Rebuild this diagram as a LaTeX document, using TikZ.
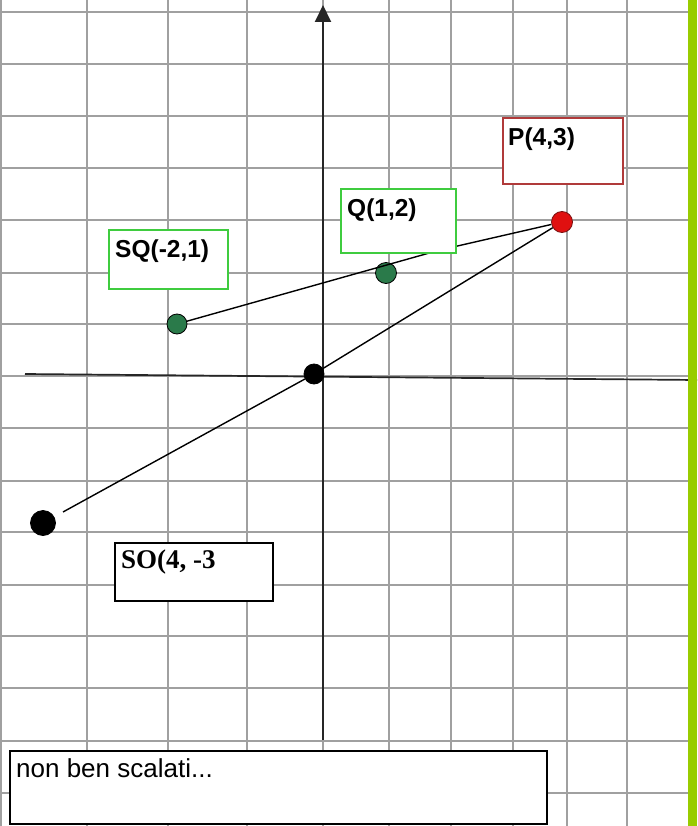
\documentclass[tikz,border=0pt]{standalone}
\usepackage{fontspec}
\setmainfont{Liberation Sans}
\newfontfamily\serifbold{Liberation Serif}
\usetikzlibrary{arrows.meta}
\definecolor{gridc}{HTML}{A0A0A0}
\definecolor{dotgreen}{HTML}{2A7A4A}
\definecolor{dotred}{HTML}{E01010}
\definecolor{darkred}{HTML}{7A1010}
\definecolor{boxgreen}{HTML}{3FCC3F}
\definecolor{boxred}{HTML}{B03A3A}
\definecolor{barc}{HTML}{99CC00}
\begin{document}
\begin{tikzpicture}[x=1pt,y=-1pt,
  gridline/.style={gridc, line width=1.2pt},
  axisline/.style={black!85, line width=2pt},
  dot/.style={circle, draw=black, line width=0.8pt, inner sep=0pt, minimum size=#1},
  labelbox/.style={draw=#1, line width=1.6pt, fill=white, anchor=north west, inner sep=0pt},
  boxtext/.style={anchor=base west, inner sep=0pt, font=\fontsize{24.5}{28}\selectfont\bfseries},
  conn/.style={black, line width=1.4pt}]
\useasboundingbox (0,0) rectangle (697,826);
\fill[white] (0,0) rectangle (697,826);
% grid
\foreach \x in {1,87,168,247,323,389,451,513,567,627}
  \draw[gridline] (\x,0) -- (\x,826);
\foreach \y in {12,64,116,168,220,273,324,376,428,481,532,585,636,688,741,793}
  \draw[gridline] (0,\y) -- (688,\y);
% axes
\coordinate (ybot) at (323,740);
\coordinate (ytop) at (323,5);
\draw[axisline, -{Triangle[length=17pt,width=16pt]}] (ybot) -- (ytop);
\coordinate (xl) at (25,374);
\coordinate (xr) at (697,380);
\draw[axisline, line width=1.7pt] (xl) -- (xr);
% points
\node[dot=20pt, fill=dotgreen] (SQ) at (177,324) {};
\node[dot=21pt, fill=dotgreen] (Q) at (386,273) {};
\node[dot=21pt, fill=dotred, draw=darkred] (P) at (562,222) {};
\node[dot=20pt, fill=black] (O) at (314,374) {};
\node[dot=25pt, fill=black] (SO) at (43,523) {};
% connectors
\coordinate (bend) at (440,250);
\draw[conn] (SQ) -- (bend) -- (P);
\draw[conn, shorten <=10pt] (SO) -- (O);
\draw[conn] (O) -- (P);
% label boxes
\node[labelbox=boxgreen, minimum width=119pt, minimum height=59pt] (SQbox) at (108,229) {};
\node[boxtext] (SQlab) at (115,257) {SQ(-2,1)};
\node[labelbox=boxgreen, minimum width=115pt, minimum height=64pt] (Qbox) at (340,188) {};
\node[boxtext] (Qlab) at (347,217) {Q(1,2)};
\node[labelbox=boxred, minimum width=120pt, minimum height=66pt] (Pbox) at (502,117) {};
\node[boxtext] (Plab) at (508,146) {P(4,3)};
\node[labelbox=black, minimum width=158pt, minimum height=58pt] (SObox) at (114,542) {};
\node[boxtext, font=\fontsize{27}{30}\selectfont\serifbold\bfseries] (SOlab) at (121,568) {SO(4, -3};
\node[labelbox=black, minimum width=537pt, minimum height=73pt] (notebox) at (9,750) {};
\node[anchor=base west, inner sep=0pt, font=\fontsize{26}{30}\selectfont] (notelab) at (16,777) {non ben scalati...};
% right bar
\fill[barc] (688,0) rectangle (697,826);
\end{tikzpicture}
\end{document}
